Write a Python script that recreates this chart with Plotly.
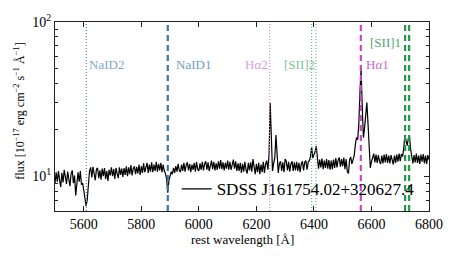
import plotly.graph_objects as go

# ---------------- data ----------------
wave_start, wave_step = 5500, 4
flux = [
    9.0, 10.6, 9.2, 10.8, 9.4, 8.5, 10.5, 9.1, 11.0, 9.9,
    8.9, 10.7, 9.5, 8.6, 10.4, 10.9, 9.0, 10.1, 7.5, 9.4,
    10.6, 9.2, 10.8, 8.8, 9.0, 8.1, 7.4, 6.4, 7.0, 8.7,
    10.8, 11.4, 9.8, 11.5, 10.2, 9.4, 11.1, 11.3, 9.7, 10.9,
    9.5, 11.2, 10.0, 11.3, 9.6, 10.8, 9.3, 11.0, 10.1, 11.4,
    10.0, 11.1, 9.6, 11.3, 10.4, 9.7, 11.4, 10.2, 11.2, 9.9,
    11.3, 10.2, 11.6, 10.0, 11.4, 10.3, 11.8, 10.1, 11.2, 11.6,
    10.3, 11.5, 10.4, 11.9, 10.2, 11.6, 10.5, 12.1, 10.6, 11.7,
    12.2, 10.5, 11.9, 10.7, 12.3, 10.6, 11.9, 10.8, 12.4, 10.7,
    12.0, 10.9, 12.2, 10.6, 11.9, 10.8, 10.4, 9.6, 7.8, 9.4,
    10.0, 10.7, 10.3, 11.3, 10.5, 11.6, 10.7, 12.0, 10.9, 10.6,
    11.9, 10.8, 12.2, 10.7, 11.8, 12.3, 10.9, 12.0, 10.6, 11.9,
    11.0, 12.2, 10.7, 12.4, 11.1, 10.8, 12.1, 11.0, 12.4, 10.9,
    12.0, 12.5, 11.0, 12.3, 10.8, 12.1, 12.6, 11.1, 12.4, 10.9,
    12.1, 11.0, 12.5, 11.2, 12.7, 11.1, 12.3, 10.9, 12.2, 11.2,
    12.6, 11.0, 12.4, 11.0, 12.2, 12.8, 11.2, 12.5, 10.8, 12.1,
    10.8, 12.2, 10.5, 12.0, 10.7, 12.4, 11.0, 10.4, 12.2, 10.9,
    12.3, 10.7, 12.9, 11.0, 10.3, 12.0, 10.6, 12.2, 10.3, 11.9,
    10.6, 12.4, 10.5, 12.0, 12.6, 11.0, 13.8, 29.8, 14.2, 10.8,
    12.1, 13.2, 18.5, 12.9, 10.5, 12.0, 12.5, 10.8, 12.3, 10.6,
    12.9, 12.5, 10.9, 12.4, 10.7, 12.0, 12.5, 10.8, 12.3, 10.9,
    12.4, 10.8, 12.2, 10.6, 12.0, 12.5, 10.9, 12.3, 12.6, 11.0,
    12.3, 12.6, 13.4, 15.5, 13.1, 13.8, 14.4, 15.7, 12.8, 11.2,
    12.8, 11.4, 13.0, 11.1, 12.6, 11.3, 12.9, 11.2, 12.7, 11.0,
    12.6, 11.1, 12.8, 11.3, 13.1, 11.4, 12.7, 13.2, 11.5, 12.9,
    11.6, 13.2, 11.1, 12.9, 10.7, 10.4, 12.8, 13.3, 12.0, 12.9,
    13.6, 16.0, 17.8, 17.2, 21.5, 35.0, 49.5, 28.0, 17.8, 20.5,
    26.5, 30.0, 22.0, 14.5, 11.3, 12.4, 13.3, 14.0, 12.3, 13.8,
    12.2, 13.7, 12.5, 12.0, 13.6, 12.1, 13.8, 12.3, 13.9, 12.2,
    13.6, 12.1, 13.7, 12.4, 11.9, 13.6, 12.2, 13.8, 12.4, 14.0,
    12.5, 13.9, 13.4, 15.0, 18.5, 17.0, 15.8, 17.5, 18.3, 15.0,
    13.2, 12.1, 13.7, 12.3, 14.0, 12.2, 13.6, 12.0, 13.8, 12.4,
    13.9, 12.1, 13.6, 12.0, 13.7, 12.8,
]
wavelength = [wave_start + wave_step * i for i in range(len(flux))]

line_names = ["NaID2", "NaID1", "H<i>α</i>2", "[SII]2", "[SII]2", "H<i>α</i>1", "[SII]1", "[SII]1"]
line_waves = [5609, 5892, 6246, 6392, 6407, 6563, 6717, 6731]
legend_label = "SDSS J161754.02+320627.4"

x_ticks = [5600, 5800, 6000, 6200, 6400, 6600, 6800]
y_ticks = [10, 100]
y_ticktext = ["10<sup>1</sup>", "10<sup>2</sup>"]
y_minor = [6, 7, 8, 9, 20, 30, 40, 50, 60, 70, 80, 90]

# ---------------- styles ----------------
line_style = [
    dict(color="#4a84b4", dash="1px,2px", width=1.2),
    dict(color="#3a76a8", dash="6px,4px", width=2.2),
    dict(color="#d88ad8", dash="1px,2px", width=1.2),
    dict(color="#62b985", dash="1px,2px", width=1.2),
    dict(color="#62b985", dash="1px,2px", width=1.2),
    dict(color="#cc44cc", dash="6px,4px", width=2.2),
    dict(color="#1f9a46", dash="6px,4px", width=2.2),
    dict(color="#1f9a46", dash="6px,4px", width=2.2),
]
label_props = [
    dict(show=True, y=1.727, xanchor="left", xshift=1, color="#7ea8cc"),
    dict(show=True, y=1.727, xanchor="left", xshift=6, color="#6f9cc4"),
    dict(show=True, y=1.727, xanchor="right", xshift=0, color="#d99de0"),
    dict(show=False),
    dict(show=True, y=1.727, xanchor="right", xshift=1, color="#7cc497"),
    dict(show=True, y=1.727, xanchor="left", xshift=3, color="#cf66d0"),
    dict(show=True, y=1.864, xanchor="right", xshift=-2, color="#4aa868"),
    dict(show=False),
]

FONT = "Liberation Serif"

fig = go.Figure()
fig.add_trace(go.Scatter(
    x=wavelength, y=flux, mode="lines",
    line=dict(color="black", width=1.2),
    name=legend_label, showlegend=True,
))

for w, st, lp, nm in zip(line_waves, line_style, label_props, line_names):
    fig.add_shape(type="line", xref="x", yref="paper", x0=w, x1=w, y0=0, y1=1,
                  line=st, layer="above")
    if lp["show"]:
        fig.add_annotation(x=w, y=lp["y"], xref="x", yref="y", text=nm,
                           showarrow=False, xanchor=lp["xanchor"], yanchor="middle",
                           xshift=lp["xshift"],
                           font=dict(family=FONT, size=13, color=lp["color"]))

fig.add_annotation(text="rest wavelength [Å]", xref="paper", yref="paper",
                   x=0.5, y=-0.153, showarrow=False, yanchor="middle",
                   font=dict(family=FONT, size=13, color="black"))
fig.add_annotation(text="flux [10<sup>−17</sup> erg cm<sup>−2</sup> s<sup>−1</sup> Å<sup>−1</sup>]",
                   xref="paper", yref="paper", x=-0.094, y=0.53, textangle=-90,
                   showarrow=False, xanchor="center", yanchor="middle",
                   font=dict(family=FONT, size=12, color="black"))

fig.update_layout(
    width=457, height=261,
    margin=dict(l=55, r=28, t=22, b=50),
    paper_bgcolor="white", plot_bgcolor="white",
    font=dict(family=FONT, size=14, color="black"),
    showlegend=True,
    legend=dict(x=0.975, xanchor="right", y=0.115, yanchor="middle",
                bgcolor="rgba(0,0,0,0)", borderwidth=0,
                font=dict(family=FONT, size=17, color="black")),
)
fig.update_xaxes(range=[5500, 6800], tickvals=x_ticks, ticks="inside", ticklen=5,
                 tickcolor="#222", linecolor="#222", linewidth=1.2, mirror="ticks",
                 showgrid=False, zeroline=False, showline=True,
                 tickfont=dict(family=FONT, size=14))
fig.update_yaxes(type="log", range=[0.774, 2.0], tickvals=y_ticks, ticktext=y_ticktext,
                 ticks="inside", ticklen=5, tickcolor="#222", linecolor="#222",
                 linewidth=1.2, mirror="ticks", showgrid=False, zeroline=False,
                 showline=True, tickfont=dict(family=FONT, size=14),
                 minor=dict(tickvals=y_minor, ticks="inside", ticklen=3,
                            tickcolor="#222", showgrid=False))

fig.write_html("out.html", config={"displayModeBar": False},
               post_script="document.body.style.margin='0px';")
